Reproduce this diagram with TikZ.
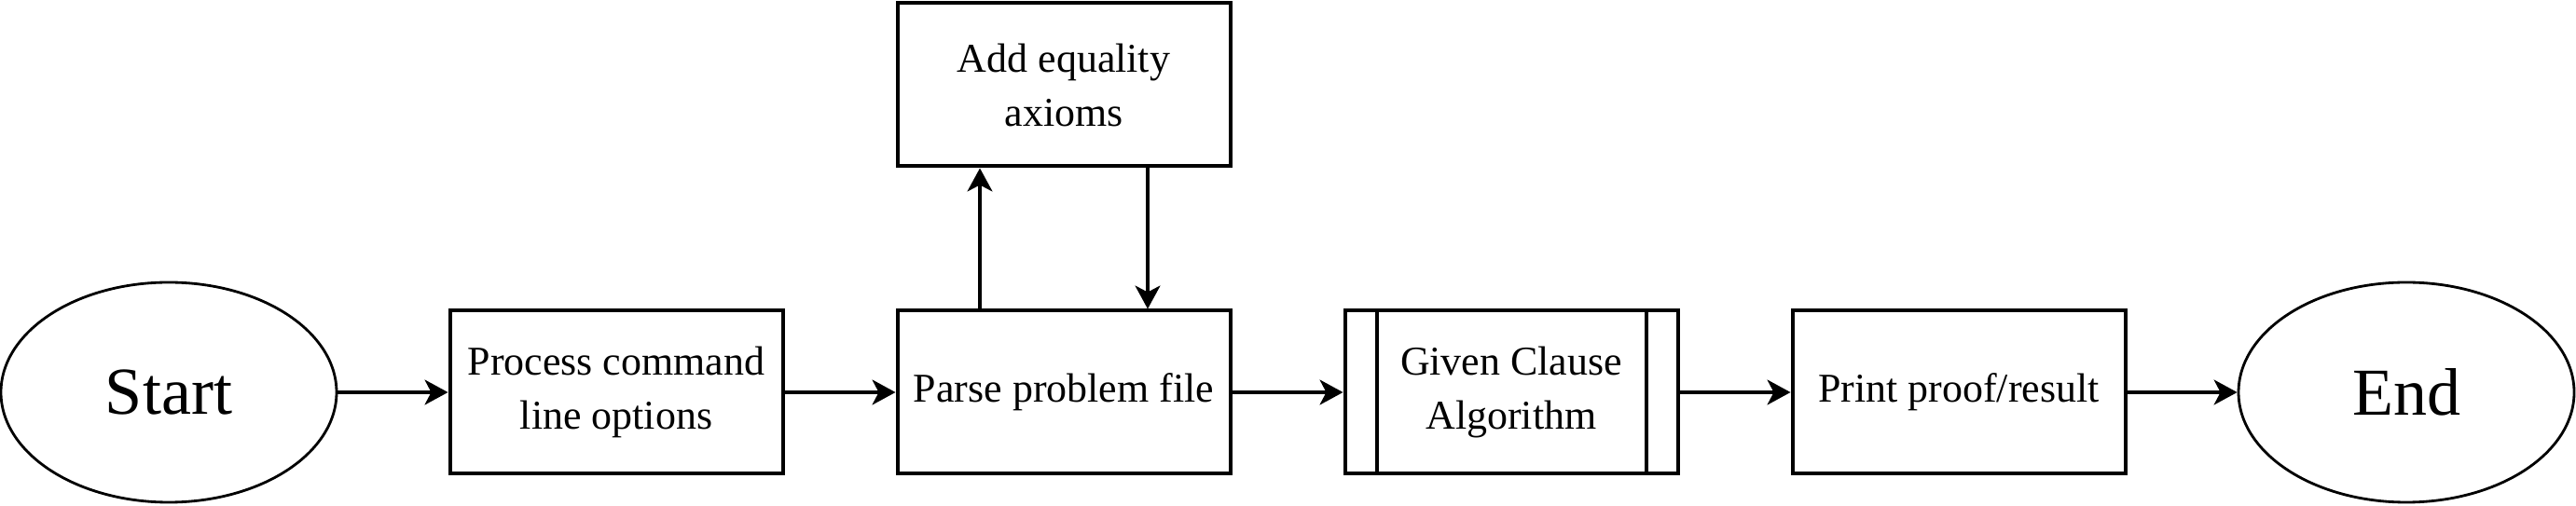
\documentclass[tikz,border=0pt]{standalone}
\usepackage{fontspec}
\setmainfont{Liberation Serif}
\usepackage{tikz}
\usetikzlibrary{arrows.meta, positioning, calc, shapes.geometric}

\begin{document}
\begin{tikzpicture}[every node/.style={font=\fontsize{12.5}{16.5}\selectfont},
  box/.style={draw, line width=0.04cm, minimum width=3.57cm, minimum height=1.75cm, align=center},
  term/.style={draw, ellipse, line width=0.8pt, minimum width=3.6cm, minimum height=2.36cm, font=\fontsize{20.5}{24}\selectfont},
  flow/.style={line width=0.9pt, -{Stealth[length=2.5mm, width=2.7mm, inset=0.7mm]}}]
  \useasboundingbox (0,0) rectangle (27.63,5.43);
  \node[term] (start) at (1.81,1.22) {Start};
  \node[box] (opts) at (6.61,1.22) {Process command\\line options};
  \node[box] (parse) at (11.41,1.22) {Parse problem file};
  \node[box] (eqax) at (11.41,4.52) {Add equality\\axioms};
  \node[box] (gca) at (16.21,1.22) {Given Clause\\Algorithm};
  \node[box] (print) at (21.01,1.22) {Print proof/result};
  \node[term] (end) at (25.81,1.22) {End};

  % side bars of the predefined process
  \draw[line width=0.04cm] ([xshift=0.36cm]gca.north west) -- ([xshift=0.36cm]gca.south west);
  \draw[line width=0.04cm] ([xshift=-0.36cm]gca.north east) -- ([xshift=-0.36cm]gca.south east);

  \draw[flow] (start) -- (opts);
  \draw[flow] (opts) -- (parse);
  \draw[flow] ([xshift=-0.9cm]parse.north) -- ([xshift=-0.9cm]eqax.south);
  \draw[flow] ([xshift=0.9cm]eqax.south) -- ([xshift=0.9cm]parse.north);
  \draw[flow] (parse) -- (gca);
  \draw[flow] (gca) -- (print);
  \draw[flow] (print) -- (end);
\end{tikzpicture}
\end{document}
